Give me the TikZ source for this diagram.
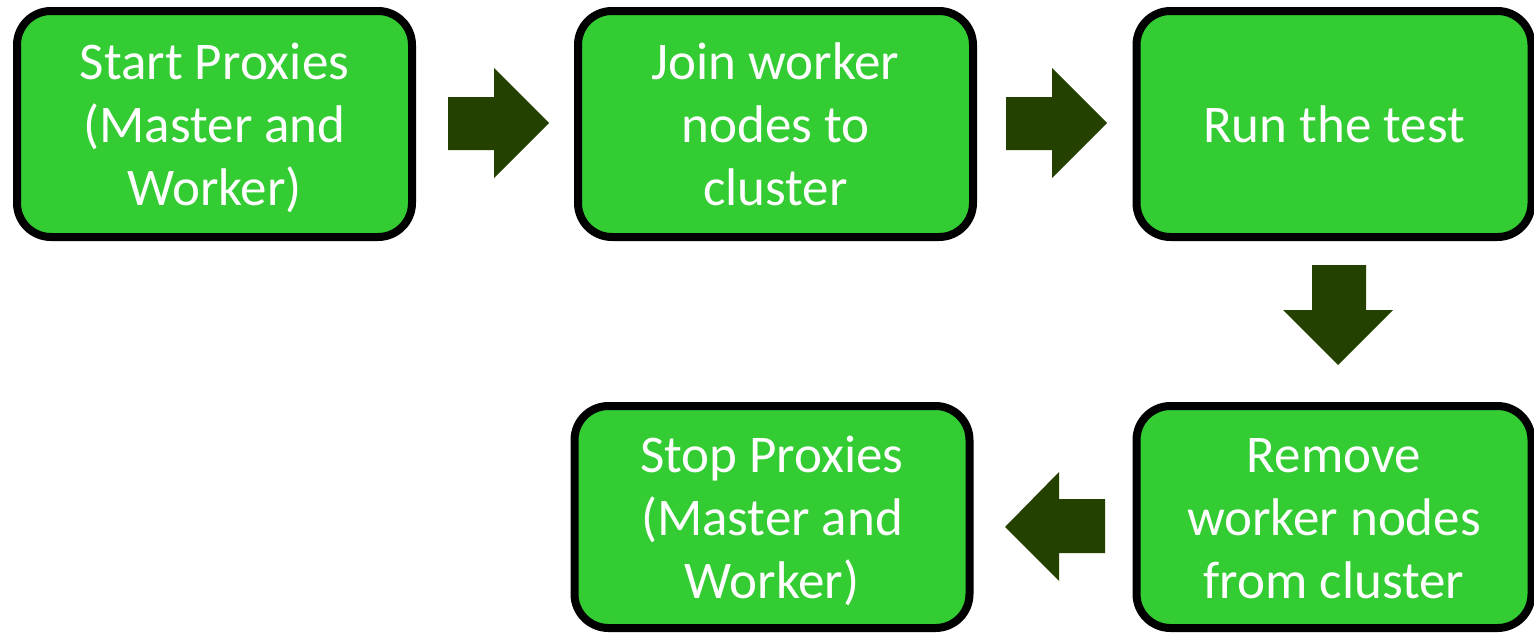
\documentclass[tikz,border=0pt]{standalone}
\usepackage{fontspec}
\setmainfont{Carlito}
\definecolor{boxgreen}{HTML}{33CC33}
\definecolor{arrowgreen}{HTML}{254100}
\begin{document}
\begin{tikzpicture}[x=1pt,y=-1pt,
  stepbox/.style={draw=black, line width=8pt, fill=boxgreen, rounded corners=34pt,
    minimum width=395pt, minimum height=226pt, inner sep=0pt},
  steptext/.style={label={[align=center, text=white, inner sep=0pt, yshift=-6pt,
    font=\fontsize{53}{63}\selectfont]center:\strut #1\strut}},
  blockarrow/.style={fill=arrowgreen, draw=none}]
\useasboundingbox (0,0) rectangle (1534,632);

% process steps
\node[stepbox, steptext={Start Proxies\\(Master and\\Worker)}] (start) at (214.5,124) {};
\node[stepbox, steptext={Join worker\\nodes to\\cluster}] (join) at (775.5,124) {};
\node[stepbox, steptext={Run the test}] (run) at (1334,124) {};
\node[stepbox, minimum height=222pt, steptext={Remove\\worker nodes\\from cluster}] (remove) at (1334,517) {};
\node[stepbox, minimum height=222pt, steptext={Stop Proxies\\(Master and\\Worker)}] (stop) at (772,517) {};

% block arrows between steps
\fill[blockarrow] (448,97) -- (494,97) -- (494,68) -- (549,123) -- (494,178) -- (494,150) -- (448,150) -- cycle;
\fill[blockarrow] (1006,97) -- (1052,97) -- (1052,68) -- (1107,123) -- (1052,178) -- (1052,150) -- (1006,150) -- cycle;
\fill[blockarrow] (1312,265) -- (1366,265) -- (1366,310) -- (1393,310) -- (1338,365) -- (1283,310) -- (1312,310) -- cycle;
\fill[blockarrow] (1105,499) -- (1059,499) -- (1059,472) -- (1005,527) -- (1059,581) -- (1059,553) -- (1105,553) -- cycle;
\end{tikzpicture}
\end{document}
